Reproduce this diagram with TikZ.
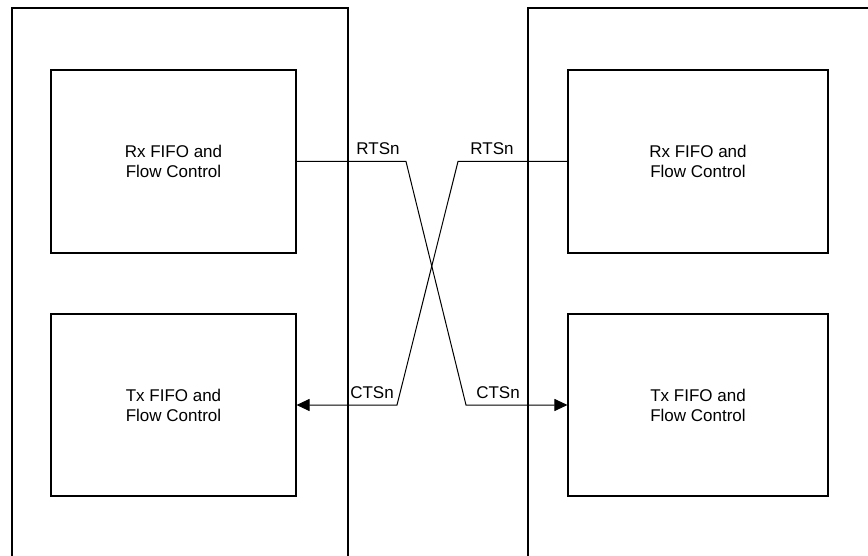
\documentclass[tikz,border=0pt]{standalone}
\usepackage{fontspec}
\setmainfont{Liberation Sans}
\usetikzlibrary{arrows.meta}
\begin{document}
\begin{tikzpicture}[x=1pt,y=-1pt,
  line width=1.1pt,
  blk/.style={draw, line width=1.1pt, align=center, inner sep=0pt,
    font=\fontsize{17}{20}\selectfont},
  sig/.style={font=\fontsize{17}{20}\selectfont, anchor=base, inner sep=0pt},
  wire/.style={line width=1pt},
  tip/.style={-{Triangle[length=13pt,width=12pt]}}]
\useasboundingbox (0,0) rectangle (868,556);
% outer boxes (cut off by the picture edge)
\draw (12,556) -- (12,8) -- (348,8) -- (348,556);
\draw (528,556) -- (528,8) -- (868,8);
% inner blocks
\node[blk, minimum width=245pt, minimum height=183pt] (rxL) at (173.5,161.5) {Rx FIFO and\\Flow Control};
\node[blk, minimum width=245pt, minimum height=182pt] (txL) at (173.5,405) {Tx FIFO and\\Flow Control};
\node[blk, minimum width=260pt, minimum height=183pt] (rxR) at (698,161.5) {Rx FIFO and\\Flow Control};
\node[blk, minimum width=260pt, minimum height=182pt] (txR) at (698,405) {Tx FIFO and\\Flow Control};
% bend points
\coordinate (k1) at (406,161.5);
\coordinate (k2) at (466,405);
\coordinate (k3) at (458,161.5);
\coordinate (k4) at (397,405);
% connectors
\draw[wire, tip] (rxL.east) -- (k1) -- (k2) -- (txR.west);
\draw[wire, tip] (rxR.west) -- (k3) -- (k4) -- (txL.east);
% labels
\node[sig] (l1) at (378,155) {RTSn};
\node[sig] (l2) at (492,155) {RTSn};
\node[sig] (l3) at (372,398) {CTSn};
\node[sig] (l4) at (498,398) {CTSn};
\end{tikzpicture}
\end{document}
